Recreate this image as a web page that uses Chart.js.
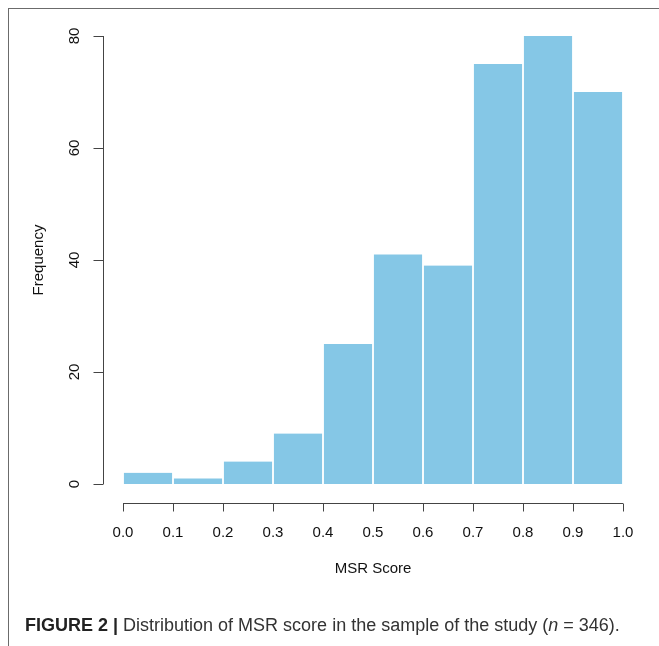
<!DOCTYPE html>
<html>
<head>
<meta charset="utf-8">
<script src="https://cdn.jsdelivr.net/npm/chart.js@4"></script>
<style>
  html, body { margin: 0; padding: 0; background: #fff; }
  #wrap { position: relative; width: 659px; height: 646px; overflow: hidden; }
  #frame { position: absolute; left: 8px; top: 8px; width: 660px; height: 650px;
           border-top: 1.5px solid #6b6b6b; border-left: 1.5px solid #6b6b6b; }
  #caption { position: absolute; left: 25px; top: 615px; white-space: nowrap;
             font-family: "Liberation Sans", Arial, sans-serif; font-size: 18px; color: #333; }
  #caption b { color: #222; }
</style>
</head>
<body>
<div id="wrap">
  <canvas id="chart" width="659" height="646"></canvas>
  <div id="frame"></div>
  <div id="caption"><b>FIGURE 2 |</b> Distribution of MSR score in the sample of the study (<i>n</i> = 346).</div>
</div>
<script>
// Histogramm-Daten (Klassenmitten und Häufigkeiten)
const binCenters = [0.05, 0.15, 0.25, 0.35, 0.45, 0.55, 0.65, 0.75, 0.85, 0.95];
const frequencies = [2, 1, 4, 9, 25, 41, 39, 75, 80, 70];
const xTicks = [0.0, 0.1, 0.2, 0.3, 0.4, 0.5, 0.6, 0.7, 0.8, 0.9, 1.0];
const yTicks = [0, 20, 40, 60, 80];

const axisColor = "#444";
const fontFamily = '"Liberation Sans", Arial, sans-serif';

// R-artige Achsen, abgesetzt vom Plotbereich
const rAxes = {
  id: "rAxes",
  afterDraw(chart) {
    const ctx = chart.ctx;
    const x = chart.scales.x, y = chart.scales.y;
    ctx.save();
    ctx.strokeStyle = axisColor;
    ctx.lineWidth = 1;
    ctx.fillStyle = "#111";
    ctx.font = "15px " + fontFamily;

    // y-Achse
    const yAxisX = 103.5;
    ctx.beginPath();
    ctx.moveTo(yAxisX, y.getPixelForValue(yTicks[0]));
    ctx.lineTo(yAxisX, y.getPixelForValue(yTicks[yTicks.length - 1]));
    yTicks.forEach(v => {
      const py = Math.round(y.getPixelForValue(v)) + 0.5;
      ctx.moveTo(yAxisX, py);
      ctx.lineTo(yAxisX - 10, py);
    });
    ctx.stroke();
    ctx.textAlign = "center";
    ctx.textBaseline = "middle";
    yTicks.forEach(v => {
      const py = y.getPixelForValue(v);
      ctx.save();
      ctx.translate(75, py);
      ctx.rotate(-Math.PI / 2);
      ctx.fillText(String(v), 0, 0);
      ctx.restore();
    });

    // x-Achse
    const xAxisY = 503.5;
    ctx.beginPath();
    ctx.moveTo(x.getPixelForValue(xTicks[0]), xAxisY);
    ctx.lineTo(x.getPixelForValue(xTicks[xTicks.length - 1]), xAxisY);
    xTicks.forEach(v => {
      const px = Math.round(x.getPixelForValue(v)) + 0.5;
      ctx.moveTo(px, xAxisY);
      ctx.lineTo(px, xAxisY + 8);
    });
    ctx.stroke();
    xTicks.forEach(v => {
      ctx.fillText(v.toFixed(1), x.getPixelForValue(v), 533);
    });

    // Achsentitel
    ctx.fillText("MSR Score", (x.left + x.right) / 2, 569);
    ctx.save();
    ctx.translate(39, (y.top + y.bottom) / 2);
    ctx.rotate(-Math.PI / 2);
    ctx.fillText("Frequency", 0, 0);
    ctx.restore();
    ctx.restore();
  }
};

new Chart(document.getElementById("chart"), {
  type: "bar",
  data: {
    datasets: [{
      data: binCenters.map((c, i) => ({ x: c, y: frequencies[i] })),
      backgroundColor: "#85c7e6",
      borderColor: "#ffffff",
      borderWidth: { left: 1.25, right: 1.25, top: 0, bottom: 0 },
      barPercentage: 1,
      categoryPercentage: 1
    }]
  },
  options: {
    responsive: false,
    animation: false,
    layout: { padding: { left: 123, right: 36, top: 36, bottom: 162 } },
    scales: {
      x: { type: "linear", min: 0, max: 1, offset: false, display: false },
      y: { min: 0, max: 80, display: false }
    },
    plugins: { legend: { display: false }, tooltip: { enabled: false } }
  },
  plugins: [rAxes]
});
</script>
</body>
</html>
